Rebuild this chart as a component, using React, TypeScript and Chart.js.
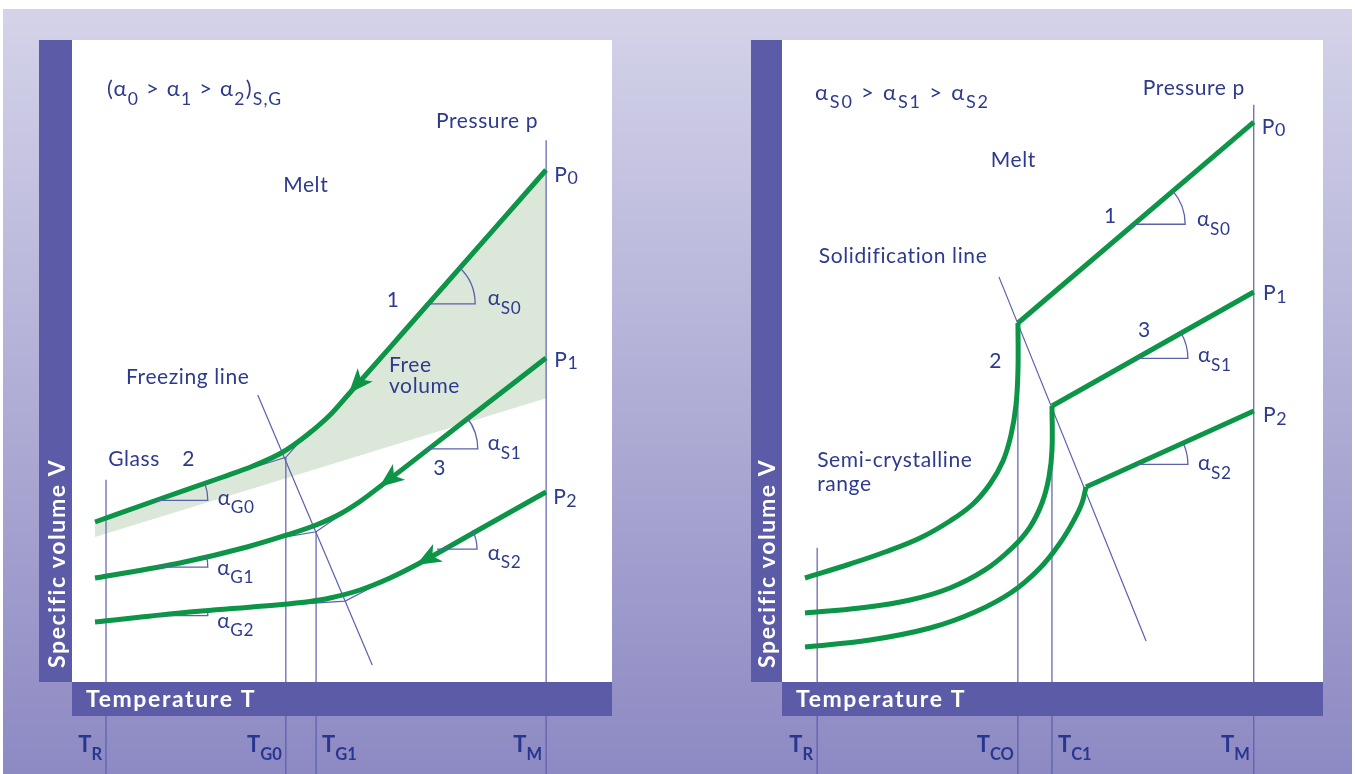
import React, { useEffect, useRef } from 'react';
import { Chart, registerables } from 'chart.js';

Chart.register(...registerables);

const FONT = 'Lato, "Open Sans", "DejaVu Sans", sans-serif';
const INK = '#2d3a8e';
const TICK_INK = '#27368f';
const GUIDE = '#5c5fae';
const GREEN = '#0c9447';
const BAND = '#5b5ba7';
const SHADE = '#dbe7d9';
const FLOOR = -15;

// ===== Left panel: amorphous thermoplastic (relative temperature / volume units) =====
const amTickLabels = ['T_{R}', 'T_{G0}', 'T_{G1}', 'T_{M}'];
const amTickTemps = [6.3, 39.6, 45.2, 87.8];
const amTickTops = [31.5, 35.0, 23.4, 84.4];

const amP0Temp = [4.26, 15.74, 27.96, 33.52, 39.07, 43.52, 47.78, 50.93, 60.74, 87.78];
const amP0Vol = [24.92, 28.35, 31.93, 33.64, 35.83, 38.47, 41.59, 44.55, 53.89, 79.75];
const amP1Temp = [4.26, 20.0, 32.41, 39.81, 45.19, 49.63, 53.33, 57.41, 72.59, 87.78];
const amP1Vol = [16.2, 18.54, 21.03, 22.9, 24.45, 26.17, 28.12, 30.69, 40.58, 50.47];
const amP2Temp = [4.26, 20.0, 39.81, 44.07, 47.78, 53.33, 58.89, 64.07, 75.93, 87.78];
const amP2Vol = [9.35, 10.75, 12.15, 12.54, 13.08, 14.33, 16.2, 18.38, 23.99, 29.6];
const freeVolEdgeTemp = [4.26, 87.78];
const freeVolEdgeVol = [22.6, 44.2];
const freezingTemp = [34.4, 55.6];
const freezingVol = [44.7, 2.65];
const amGuide0Temp = [27.96, 39.6, 44.1];
const amGuide0Vol = [31.93, 35.0, 39.25];
const amGuide1Temp = [39.6, 45.2, 50.2];
const amGuide1Vol = [22.6, 23.4, 26.3];
const amGuide2Temp = [39.8, 50.6, 55.6];
const amGuide2Vol = [12.0, 12.6, 14.8];

const amArrowTemp = [51.48, 57.2, 64.07];
const amArrowVol = [45.17, 30.55, 18.38];
const amArrowFromTemp = [87.78, 87.78, 75.93];
const amArrowFromVol = [79.75, 50.47, 23.99];

const amAngleTemp = [65.4, 65.7, 67.6, 15.7, 15.7, 15.7];
const amAngleVol = [58.9, 36.3, 20.7, 28.3, 17.9, 10.35];
const amAngleToTemp = [87.78, 87.78, 87.78, 27.96, 32.41, 39.81];
const amAngleToVol = [79.75, 50.47, 29.6, 31.93, 21.03, 12.15];
const amAngleRadius = [50, 51, 40, 51, 51, 51];

// ===== Right panel: semi-crystalline thermoplastic =====
const scTickLabels = ['T_{R}', 'T_{CO}', 'T_{C1}', 'T_{M}'];
const scTickTemps = [6.5, 43.6, 49.9, 87.2];
const scTickTops = [20.9, 55.6, 43.1, 89.9];

const scMelt0Temp = [43.62, 87.2];
const scMelt0Vol = [55.92, 87.2];
const scMelt1Temp = [49.91, 87.2];
const scMelt1Vol = [42.99, 60.75];
const scMelt2Temp = [56.19, 87.2];
const scMelt2Vol = [30.37, 42.2];
const scCryst0Temp = [4.25, 12.57, 19.04, 25.51, 31.05, 35.3, 38.45, 40.85, 42.33, 43.25, 43.62, 43.62];
const scCryst0Vol = [16.2, 18.38, 20.25, 22.43, 25.08, 27.73, 30.84, 34.42, 38.47, 43.15, 48.6, 55.92];
const scCryst1Temp = [4.25, 14.42, 23.66, 31.05, 37.52, 42.51, 45.84, 48.06, 49.35, 49.91, 49.91];
const scCryst1Vol = [10.75, 11.53, 12.77, 14.64, 17.45, 20.87, 24.14, 27.88, 31.93, 36.14, 42.99];
const scCryst2Temp = [4.25, 16.27, 27.36, 35.67, 42.51, 47.69, 51.39, 53.97, 55.45, 56.19];
const scCryst2Vol = [5.45, 6.54, 8.41, 10.9, 14.02, 17.76, 21.65, 25.23, 27.88, 30.37];
const solidTemp = [40.1, 67.3];
const solidVol = [63.1, 6.4];

const scAngleTemp = [65.1, 65.6, 65.6];
const scAngleVol = [71.3, 50.4, 33.9];
const scAngleToTemp = [87.2, 87.2, 87.2];
const scAngleToVol = [87.2, 60.75, 42.2];
const scAngleRadius = [51, 51, 51];

type Note = { text: string; t: number; v: number; drop?: number; size?: number; sp?: number; sub?: number };

const amNotes: Note[] = [
  { text: '(α_{0} > α_{1} > α_{2})_{S,G}', t: 6.5, v: 91.2, drop: 0.38, size: 22, sp: 1.2, sub: 0.8 },
  { text: 'Pressure p', t: 67.4, v: 86.3 },
  { text: 'Melt', t: 39.1, v: 76.3 },
  { text: 'P_{0}', t: 89.3, v: 77.9, drop: 0.12, sub: 0.85 },
  { text: '1', t: 58.3, v: 58.4 },
  { text: 'α_{S0}', t: 77.0, v: 58.7, drop: 0.4, sub: 0.82 },
  { text: 'Free', t: 58.7, v: 48.3 },
  { text: 'volume', t: 58.7, v: 45.0 },
  { text: 'Freezing line', t: 10.0, v: 46.4 },
  { text: 'P_{1}', t: 89.3, v: 49.1, drop: 0.12, sub: 0.85 },
  { text: 'α_{S1}', t: 77.0, v: 36.1, drop: 0.4, sub: 0.82 },
  { text: '3', t: 66.9, v: 32.2 },
  { text: 'Glass', t: 6.7, v: 33.6 },
  { text: '2', t: 20.4, v: 33.6 },
  { text: 'α_{G0}', t: 27.0, v: 27.6, drop: 0.4, sub: 0.82 },
  { text: 'P_{2}', t: 89.1, v: 27.7, drop: 0.12, sub: 0.85 },
  { text: 'α_{S2}', t: 77.0, v: 19.0, drop: 0.4, sub: 0.82 },
  { text: 'α_{G1}', t: 26.9, v: 16.7, drop: 0.4, sub: 0.82 },
  { text: 'α_{G2}', t: 26.9, v: 8.4, drop: 0.4, sub: 0.82 },
];

const scNotes: Note[] = [
  { text: 'α_{S0} > α_{S1} > α_{S2}', t: 6.1, v: 90.7, drop: 0.38, size: 22, sp: 1.8, sub: 0.82 },
  { text: 'Pressure p', t: 66.7, v: 91.4 },
  { text: 'Melt', t: 38.6, v: 80.2 },
  { text: 'P_{0}', t: 88.7, v: 85.4, drop: 0.12, sub: 0.85 },
  { text: '1', t: 59.5, v: 71.5 },
  { text: 'α_{S0}', t: 76.7, v: 71.0, drop: 0.4, sub: 0.82 },
  { text: 'Solidification line', t: 6.8, v: 65.3 },
  { text: 'P_{1}', t: 88.9, v: 59.5, drop: 0.12, sub: 0.85 },
  { text: '3', t: 65.8, v: 53.7 },
  { text: 'α_{S1}', t: 76.9, v: 49.8, drop: 0.4, sub: 0.82 },
  { text: '2', t: 38.3, v: 48.9 },
  { text: 'P_{2}', t: 88.9, v: 40.5, drop: 0.12, sub: 0.85 },
  { text: 'α_{S2}', t: 76.9, v: 33.0, drop: 0.4, sub: 0.82 },
  { text: 'Semi-crystalline', t: 6.5, v: 33.5 },
  { text: 'range', t: 6.5, v: 29.8 },
];

// ---------- helpers ----------
type Seg = { text: string; sub: boolean };
function parseRich(s: string): Seg[] {
  const out: Seg[] = [];
  const re = /_\{([^}]*)\}/g;
  let last = 0;
  let m: RegExpExecArray | null;
  while ((m = re.exec(s))) {
    if (m.index > last) out.push({ text: s.slice(last, m.index), sub: false });
    out.push({ text: m[1], sub: true });
    last = re.lastIndex;
  }
  if (last < s.length) out.push({ text: s.slice(last), sub: false });
  return out;
}

function drawRich(
  ctx: CanvasRenderingContext2D,
  s: string,
  x: number,
  y: number,
  o: { size: number; color: string; weight?: number; align?: string; subScale?: number; drop?: number; spacing?: number }
) {
  const segs = parseRich(s);
  const subSize = o.size * (o.subScale ?? 0.78);
  const fontFor = (sub: boolean) => `${o.weight ?? 400} ${sub ? subSize : o.size}px ${FONT}`;
  (ctx as any).letterSpacing = `${o.spacing ?? 0}px`;
  let w = 0;
  for (const sg of segs) {
    ctx.font = fontFor(sg.sub);
    w += ctx.measureText(sg.text).width;
  }
  let cx = o.align === 'right' ? x - w : o.align === 'center' ? x - w / 2 : x;
  ctx.fillStyle = o.color;
  ctx.textAlign = 'left';
  ctx.textBaseline = 'alphabetic';
  for (const sg of segs) {
    ctx.font = fontFor(sg.sub);
    ctx.fillText(sg.text, cx, y + (sg.sub ? o.size * (o.drop ?? 0.32) : 0));
    cx += ctx.measureText(sg.text).width;
  }
  (ctx as any).letterSpacing = '0px';
}

const pts = (xs: number[], ys: number[]) => xs.map((x, i) => ({ x, y: ys[i] }));

const thick = (xs: number[], ys: number[], extra: any = {}) => ({
  data: pts(xs, ys),
  showLine: true,
  borderColor: GREEN,
  borderWidth: 5,
  pointRadius: 0,
  borderCapStyle: 'butt',
  borderJoinStyle: 'round',
  cubicInterpolationMode: 'monotone',
  fill: false,
  order: 0,
  ...extra,
});

const smoothThick = (xs: number[], ys: number[]) =>
  thick(xs, ys, { cubicInterpolationMode: 'default', tension: 0.4 });

const thin = (xs: number[], ys: number[], extra: any = {}) => ({
  data: pts(xs, ys),
  showLine: true,
  borderColor: GUIDE,
  borderWidth: 1.2,
  pointRadius: 0,
  fill: false,
  order: 1,
  ...extra,
});

type PanelSpec = {
  left: number;
  width: number;
  pad: { left: number; right: number; top: number; bottom: number };
  bandW: number;
  datasets: any[];
  notes: Note[];
  tickLabels: string[];
  tickTemps: number[];
  tickAlign: string[];
  arrows: { t: number; v: number; ft: number; fv: number }[];
  angles: { t: number; v: number; tt: number; tv: number; r: number }[];
};

function makeDecor(spec: PanelSpec) {
  return {
    id: 'decor',
    beforeDraw(chart: any) {
      const { ctx, chartArea: a } = chart;
      ctx.save();
      ctx.fillStyle = '#ffffff';
      ctx.fillRect(a.left, a.top, a.right - a.left, a.bottom - a.top);
      ctx.restore();
    },
    afterDatasetsDraw(chart: any) {
      const { ctx, chartArea: a } = chart;
      const xs = chart.scales.x;
      const ys = chart.scales.y;
      ctx.save();
      // angle markers
      ctx.strokeStyle = GUIDE;
      ctx.lineWidth = 1.3;
      for (const g of spec.angles) {
        const vx = xs.getPixelForValue(g.t);
        const vy = ys.getPixelForValue(g.v);
        const tx = xs.getPixelForValue(g.tt);
        const ty = ys.getPixelForValue(g.tv);
        const ang = Math.atan2(vy - ty, tx - vx);
        ctx.beginPath();
        ctx.moveTo(vx, vy);
        ctx.lineTo(vx + g.r, vy);
        ctx.arc(vx, vy, g.r, 0, -ang, true);
        ctx.stroke();
      }
      // arrow heads
      ctx.fillStyle = GREEN;
      for (const ar of spec.arrows) {
        const px = xs.getPixelForValue(ar.t);
        const py = ys.getPixelForValue(ar.v);
        const fx = xs.getPixelForValue(ar.ft);
        const fy = ys.getPixelForValue(ar.fv);
        const len = Math.hypot(px - fx, py - fy);
        const ux = (px - fx) / len;
        const uy = (py - fy) / len;
        const nx = -uy;
        const ny = ux;
        const L = 23;
        const W = 10;
        const bx = px - ux * L;
        const by = py - uy * L;
        ctx.beginPath();
        ctx.moveTo(px + ux * 2, py + uy * 2);
        ctx.lineTo(bx + nx * W, by + ny * W);
        ctx.lineTo(px - ux * L * 0.72, py - uy * L * 0.72);
        ctx.lineTo(bx - nx * W, by - ny * W);
        ctx.closePath();
        ctx.fill();
      }
      // bands
      ctx.fillStyle = BAND;
      ctx.fillRect(a.left - spec.bandW, a.top, spec.bandW, a.bottom - a.top);
      ctx.fillRect(a.left, a.bottom, a.right - a.left, 34);
      // band titles
      ctx.fillStyle = '#ffffff';
      ctx.font = `700 23px ${FONT}`;
      (ctx as any).letterSpacing = '1.6px';
      ctx.textAlign = 'left';
      ctx.textBaseline = 'alphabetic';
      ctx.fillText('Temperature T', a.left + 14, a.bottom + 25);
      ctx.save();
      ctx.translate(a.left - 7, a.bottom - 14);
      ctx.rotate(-Math.PI / 2);
      ctx.fillText('Specific volume V', 0, 0);
      ctx.restore();
      (ctx as any).letterSpacing = '0px';
      // temperature tick labels
      spec.tickLabels.forEach((lab, i) => {
        const px = xs.getPixelForValue(spec.tickTemps[i]);
        const right = spec.tickAlign[i] === 'right';
        drawRich(ctx, lab, right ? px - 4 : px + 6, a.bottom + 70, {
          size: 22,
          weight: 700,
          color: TICK_INK,
          align: right ? 'right' : 'left',
          subScale: 0.75,
          drop: 0.38,
        });
      });
      // notes
      for (const n of spec.notes) {
        drawRich(ctx, n.text, xs.getPixelForValue(n.t), ys.getPixelForValue(n.v), {
          size: n.size ?? 21,
          color: INK,
          drop: n.drop ?? 0.32,
          spacing: n.sp ?? 0.6,
          subScale: n.sub ?? 0.78,
        });
      }
      ctx.restore();
    },
  };
}

function Panel({ spec }: { spec: PanelSpec }) {
  const ref = useRef<HTMLCanvasElement | null>(null);
  useEffect(() => {
    if (!ref.current) return;
    const chart = new Chart(ref.current, {
      type: 'scatter',
      data: { datasets: spec.datasets },
      options: {
        animation: false,
        responsive: false,
        events: [],
        layout: { padding: spec.pad },
        scales: {
          x: { type: 'linear', min: 0, max: 100, display: false },
          y: { type: 'linear', min: 0, max: 100, display: false },
        },
        plugins: { legend: { display: false }, tooltip: { enabled: false } },
      },
      plugins: [makeDecor(spec)],
    } as any);
    return () => chart.destroy();
  }, [spec]);
  return (
    <canvas
      ref={ref}
      width={spec.width}
      height={774}
      style={{ position: 'absolute', left: spec.left, top: 0, width: spec.width, height: 774 }}
    />
  );
}

const tickLines = (temps: number[], tops: number[]) =>
  temps.map((t, i) => thin([t, t], [tops[i], FLOOR], { clip: false }));

const leftSpec: PanelSpec = {
  left: 0,
  width: 677,
  pad: { left: 72, right: 65, top: 40, bottom: 92 },
  bandW: 33,
  datasets: [
    // lower edge of the free-volume wedge (fill target, invisible)
    { data: pts(freeVolEdgeTemp, freeVolEdgeVol), showLine: true, borderWidth: 0, borderColor: 'rgba(0,0,0,0)', pointRadius: 0, fill: false, order: 50 },
    // free-volume wedge fill, drawn first
    {
      data: pts(amP0Temp, amP0Vol),
      showLine: true,
      borderWidth: 0,
      borderColor: 'rgba(0,0,0,0)',
      pointRadius: 0,
      cubicInterpolationMode: 'monotone',
      fill: { target: 0 },
      backgroundColor: SHADE,
      order: 100,
    },
    ...tickLines(amTickTemps, amTickTops),
    thin(freezingTemp, freezingVol),
    thin(amGuide0Temp, amGuide0Vol),
    thin(amGuide1Temp, amGuide1Vol),
    thin(amGuide2Temp, amGuide2Vol),
    thick(amP0Temp, amP0Vol),
    thick(amP1Temp, amP1Vol),
    thick(amP2Temp, amP2Vol),
  ],
  notes: amNotes,
  tickLabels: amTickLabels,
  tickTemps: amTickTemps,
  tickAlign: ['right', 'right', 'left', 'right'],
  arrows: amArrowTemp.map((t, i) => ({ t, v: amArrowVol[i], ft: amArrowFromTemp[i], fv: amArrowFromVol[i] })),
  angles: amAngleTemp.map((t, i) => ({ t, v: amAngleVol[i], tt: amAngleToTemp[i], tv: amAngleToVol[i], r: amAngleRadius[i] })),
};

const rightSpec: PanelSpec = {
  left: 677,
  width: 678,
  pad: { left: 105, right: 32, top: 40, bottom: 92 },
  bandW: 31,
  datasets: [
    ...tickLines(scTickTemps, scTickTops),
    thin(solidTemp, solidVol),
    thick(scMelt0Temp, scMelt0Vol),
    thick(scMelt1Temp, scMelt1Vol),
    thick(scMelt2Temp, scMelt2Vol),
    smoothThick(scCryst0Temp, scCryst0Vol),
    smoothThick(scCryst1Temp, scCryst1Vol),
    smoothThick(scCryst2Temp, scCryst2Vol),
  ],
  notes: scNotes,
  tickLabels: scTickLabels,
  tickTemps: scTickTemps,
  tickAlign: ['right', 'right', 'left', 'right'],
  arrows: [],
  angles: scAngleTemp.map((t, i) => ({ t, v: scAngleVol[i], tt: scAngleToTemp[i], tv: scAngleToVol[i], r: scAngleRadius[i] })),
};

export default function App() {
  return (
    <div style={{ position: 'absolute', left: 0, top: 0, width: 1355, height: 774, background: '#ffffff', overflow: 'hidden' }}>
      <div
        style={{
          position: 'absolute',
          left: 3,
          top: 9,
          width: 1349,
          height: 765,
          background: 'linear-gradient(to bottom, #d4d3e9 0%, #8d89c3 100%)',
        }}
      />
      <Panel spec={leftSpec} />
      <Panel spec={rightSpec} />
    </div>
  );
}
